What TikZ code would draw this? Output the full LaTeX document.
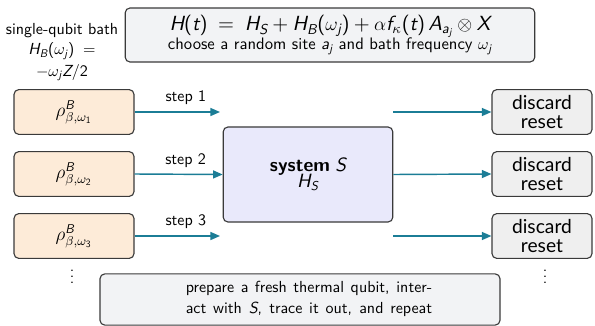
\documentclass[tikz,border=0pt]{standalone}
\usepackage[no-math]{fontspec}
\usetikzlibrary{arrows.meta}
\newfontfamily\latofont{Lato}
\newfontfamily\sfm{lmsans10-regular.otf}[ItalicFont=lmsans10-oblique.otf, BoldFont=lmsans10-bold.otf, NFSSFamily=mysfm]
\renewcommand{\familydefault}{\sfdefault}
\DeclareSymbolFont{operators}{TU}{mysfm}{m}{n}
\DeclareSymbolFont{sfit}{TU}{mysfm}{m}{it}
\DeclareMathSymbol{H}{\mathalpha}{sfit}{`H}
\DeclareMathSymbol{S}{\mathalpha}{sfit}{`S}
\DeclareMathSymbol{B}{\mathalpha}{sfit}{`B}
\DeclareMathSymbol{A}{\mathalpha}{sfit}{`A}
\DeclareMathSymbol{X}{\mathalpha}{sfit}{`X}
\DeclareMathSymbol{Z}{\mathalpha}{sfit}{`Z}
\DeclareMathSymbol{t}{\mathalpha}{sfit}{`t}
\DeclareMathSymbol{j}{\mathalpha}{sfit}{`j}
\DeclareMathSymbol{f}{\mathalpha}{sfit}{`f}
\DeclareMathSymbol{a}{\mathalpha}{sfit}{`a}
\definecolor{teal1}{HTML}{1B7D96}
\definecolor{orangefill}{HTML}{FDEBD8}
\definecolor{sysfill}{HTML}{E9E9FB}
\definecolor{grayfill}{HTML}{F2F3F5}
\definecolor{discfill}{HTML}{EFEFEF}
\definecolor{border}{HTML}{3A3A3A}
\tikzset{
  box/.style={draw=border, line width=0.7pt, rounded corners=3pt, inner sep=0pt, align=center},
  bathbox/.style={box, fill=orangefill, minimum width=75pt, minimum height=28pt},
  discbox/.style={box, fill=discfill, minimum width=62.5pt, minimum height=28pt, font=\latofont\fontsize{12}{12.5}\selectfont},
  flow/.style={draw=teal1, line width=0.9pt, -{Triangle[length=6pt,width=5pt]}},
  steplabel/.style={font=\normalsize, inner sep=1pt}
}
\begin{document}
\begin{tikzpicture}[x=0.625pt,y=-0.625pt]
\useasboundingbox (0,0) rectangle (595,326);
% top box
\node[box, fill=grayfill, minimum width=256pt, minimum height=33.75pt] (top) at (330,35) {%
  {\fontsize{12.8}{14}\selectfont $H(t)\;=\;H_S+H_B(\omega_j)+\alpha f_\kappa(t)\,A_{a_j}\otimes X$}\\[0pt]
  {\fontsize{10.4}{12}\selectfont choose a random site $a_j$ and bath frequency $\omega_j$}};
% left text
\node[align=center, font=\normalsize, inner sep=0pt] (bathtxt) at (62,52) {single-qubit bath\\[1pt] $H_B(\omega_j)\;=$\\[1.5pt] $-\omega_j Z/2$};
% bath boxes
\node[bathbox] (b1) at (74,112) {\large $\rho^{B}_{\beta,\omega_1}$};
\node[bathbox] (b2) at (74,174) {\large $\rho^{B}_{\beta,\omega_2}$};
\node[bathbox] (b3) at (74,236) {\large $\rho^{B}_{\beta,\omega_3}$};
% system
\node[box, fill=sysfill, minimum width=106pt, minimum height=59.4pt] (sys) at (308,174.5) {%
  {\large\bfseries system} {\large $S$}\\[-2pt] {\large $H_S$}};
% discard boxes
\node[discbox] (d1) at (542,112) {discard\\[-1pt]reset};
\node[discbox] (d2) at (542,174) {discard\\[-1pt]reset};
\node[discbox] (d3) at (542,236) {discard\\[-1pt]reset};
% input arrows
\coordinate (i1) at (220,112);
\coordinate (i3) at (220,236);
\draw[flow] (b1.east) -- (i1) node[steplabel, pos=0.6, above=3pt] (s1) {step 1};
\draw[flow] (b2.east) -- (sys.west) node[steplabel, pos=0.58, above=3pt] (s2) {step 2};
\draw[flow] (b3.east) -- (i3) node[steplabel, pos=0.6, above=3pt] (s3) {step 3};
% output arrows
\coordinate (o1) at (393,112);
\coordinate (o3) at (393,236);
\draw[flow] (o1) -- (d1.west);
\draw[flow] (sys.east) -- (d2.west);
\draw[flow] (o3) -- (d3.west);
% dots
\node (dl) at (72,272) {$\vdots$};
\node (dr) at (545,272) {$\vdots$};
% bottom box
\node[box, fill=grayfill, minimum width=250pt, minimum height=32pt] (bot) at (300,299.5) {};
\node[align=left, font=\normalsize, inner sep=0pt] (bottxt) at (309,299) {%
  \makebox[154pt][s]{prepare a fresh thermal qubit, inter-}\\[1pt]
  \makebox[154pt][s]{act with $S$, trace it out, and repeat}};
\end{tikzpicture}
\end{document}
